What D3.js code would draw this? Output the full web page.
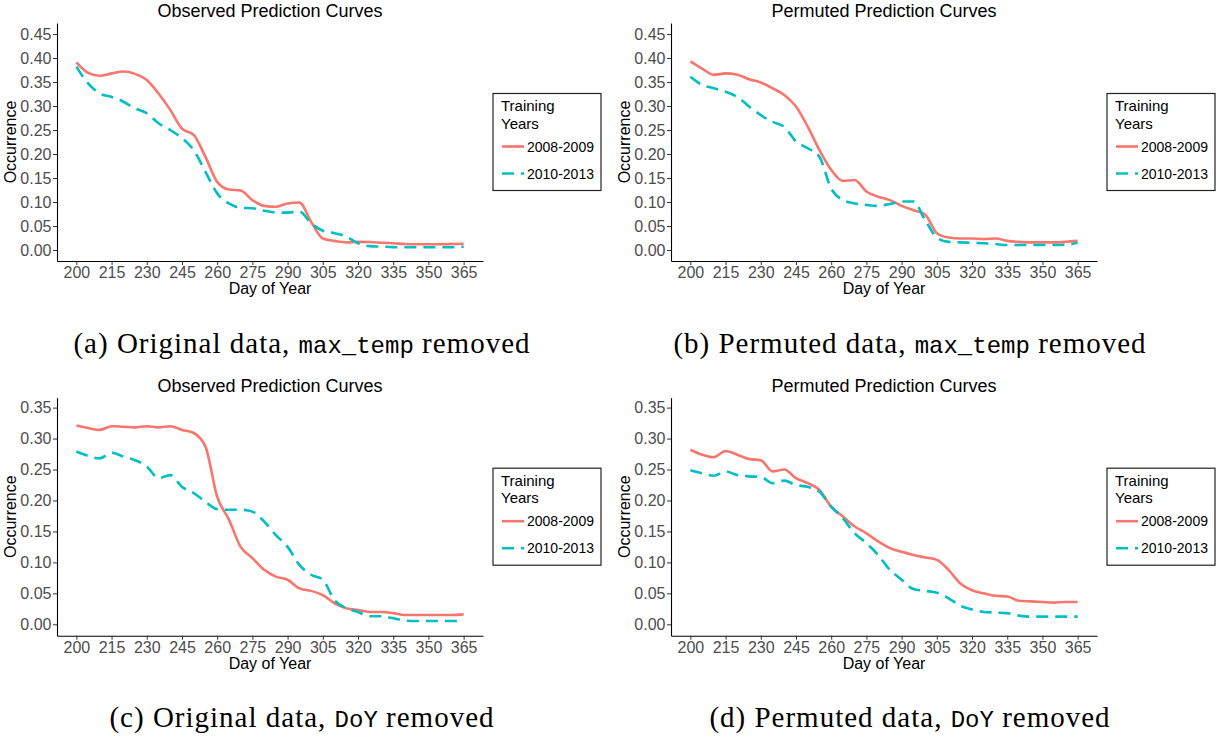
<!DOCTYPE html>
<html>
<head>
<meta charset="utf-8">
<script src="https://cdn.jsdelivr.net/npm/d3@7"></script>
<style>
  body { margin: 0; background: white; }
  svg { display: block; }
</style>
</head>
<body>
<script>
// day of year sampled every 5 days
var days = d3.range(200, 366, 5)
var dayTicks = [200, 215, 230, 245, 260, 275, 290, 305, 320, 335, 350, 365]
var yTicksTop = [0, 0.05, 0.10, 0.15, 0.20, 0.25, 0.30, 0.35, 0.40, 0.45]
var yTicksBottom = [0, 0.05, 0.10, 0.15, 0.20, 0.25, 0.30, 0.35]
var seriesNames = ["2008-2009", "2010-2013"]

// (a) original data, max_temp removed
var obsMax0809 = [0.391, 0.369, 0.363, 0.368, 0.372, 0.367, 0.354, 0.326, 0.292, 0.253, 0.240, 0.194,
  0.142, 0.126, 0.124, 0.104, 0.092, 0.090, 0.097, 0.099, 0.059, 0.024, 0.019, 0.016, 0.017, 0.0167,
  0.015, 0.014, 0.0125, 0.012, 0.012, 0.012, 0.0125, 0.013]
var obsMax1013 = [0.382, 0.347, 0.326, 0.319, 0.309, 0.295, 0.285, 0.264, 0.250, 0.233, 0.208, 0.163,
  0.118, 0.097, 0.088, 0.087, 0.082, 0.078, 0.078, 0.080, 0.056, 0.040, 0.035, 0.028, 0.014, 0.008,
  0.007, 0.006, 0.0056, 0.0056, 0.0056, 0.0056, 0.0056, 0.007]
// (b) permuted data, max_temp removed
var permMax0809 = [0.393, 0.378, 0.365, 0.368, 0.365, 0.356, 0.349, 0.337, 0.323, 0.299, 0.257, 0.208,
  0.167, 0.144, 0.146, 0.122, 0.111, 0.104, 0.092, 0.083, 0.074, 0.035, 0.026, 0.024, 0.024, 0.023,
  0.024, 0.019, 0.017, 0.016, 0.016, 0.016, 0.017, 0.019]
var permMax1013 = [0.361, 0.344, 0.337, 0.330, 0.319, 0.299, 0.281, 0.267, 0.257, 0.226, 0.212, 0.194,
  0.128, 0.104, 0.097, 0.094, 0.092, 0.096, 0.101, 0.101, 0.0625, 0.026, 0.017, 0.016, 0.015, 0.014,
  0.0125, 0.0104, 0.0104, 0.0104, 0.0104, 0.0104, 0.011, 0.015]
// (c) original data, DoY removed
var obsDoy0809 = [0.321, 0.317, 0.314, 0.320, 0.319, 0.318, 0.320, 0.318, 0.320, 0.314, 0.309, 0.287,
  0.206, 0.169, 0.125, 0.107, 0.088, 0.077, 0.072, 0.058, 0.054, 0.047, 0.034, 0.026, 0.023, 0.020,
  0.020, 0.018, 0.015, 0.015, 0.015, 0.015, 0.015, 0.016]
var obsDoy1013 = [0.279, 0.272, 0.268, 0.277, 0.271, 0.265, 0.255, 0.236, 0.241, 0.222, 0.212, 0.198,
  0.186, 0.185, 0.185, 0.182, 0.166, 0.144, 0.125, 0.096, 0.080, 0.072, 0.039, 0.026, 0.020, 0.013,
  0.013, 0.0097, 0.006, 0.0054, 0.0054, 0.0054, 0.0054, 0.0054]
// (d) permuted data, DoY removed
var permDoy0809 = [0.282, 0.274, 0.270, 0.280, 0.274, 0.267, 0.265, 0.247, 0.250, 0.236, 0.228, 0.217,
  0.190, 0.174, 0.158, 0.147, 0.134, 0.123, 0.117, 0.112, 0.108, 0.104, 0.088, 0.066, 0.055, 0.050,
  0.046, 0.045, 0.038, 0.037, 0.036, 0.035, 0.036, 0.036]
var permDoy1013 = [0.249, 0.244, 0.240, 0.247, 0.241, 0.239, 0.238, 0.228, 0.232, 0.225, 0.222, 0.214,
  0.190, 0.171, 0.147, 0.131, 0.112, 0.088, 0.072, 0.057, 0.054, 0.051, 0.042, 0.030, 0.024, 0.020,
  0.019, 0.018, 0.014, 0.0124, 0.0124, 0.0124, 0.0124, 0.0124]

var colors = ["#F8766D", "#00BFC4"]
var sans = "'Liberation Sans', Arial, sans-serif"
var plotW = 426, plotH = 238

var svg = d3.select("body")
  .append("svg")
  .attr("width", 1225)
  .attr("height", 740)

function drawPanel(ox, oy, yDomain, yTicks, title, s1, s2) {
  var g = svg.append("g")
    .attr("transform", "translate(" + ox + "," + oy + ")")

  var x = d3.scaleLinear()
    .domain([191.75, 373.25])
    .range([0, plotW])
  var y = d3.scaleLinear()
    .domain(yDomain)
    .range([plotH, 0])

  var line = d3.line()
    .x((d, i) => x(days[i]))
    .y(d => y(d))
    .curve(d3.curveMonotoneX)

  g.append("path")
    .attr("d", line(s1))
    .attr("fill", "none")
    .attr("stroke", colors[0])
    .attr("stroke-width", 2.6)
  g.append("path")
    .attr("d", line(s2))
    .attr("fill", "none")
    .attr("stroke", colors[1])
    .attr("stroke-width", 2.6)
    .attr("stroke-dasharray", "12,7")

  var xAxis = d3.axisBottom(x)
    .tickValues(dayTicks)
    .tickSize(4)
    .tickSizeOuter(0)
    .tickPadding(2)
  var yAxis = d3.axisLeft(y)
    .tickValues(yTicks)
    .tickFormat(d3.format(".2f"))
    .tickSize(4)
    .tickSizeOuter(0)
    .tickPadding(1.5)

  var gx = g.append("g")
    .attr("transform", "translate(0," + plotH + ")")
    .call(xAxis)
  var gy = g.append("g")
    .call(yAxis)

  ;[gx, gy].forEach(function(a) {
    a.select(".domain").attr("stroke", "black").attr("stroke-width", 1.1)
    a.selectAll(".tick line").attr("stroke", "#333")
    a.selectAll(".tick text")
      .attr("fill", "#4d4d4d")
      .style("font-family", sans)
      .style("font-size", "16px")
  })

  g.append("text")
    .attr("x", plotW / 2)
    .attr("y", -6)
    .attr("text-anchor", "middle")
    .style("font-family", sans)
    .style("font-size", "18px")
    .text(title)

  g.append("text")
    .attr("x", plotW / 2)
    .attr("y", plotH + 33)
    .attr("text-anchor", "middle")
    .style("font-family", sans)
    .style("font-size", "16px")
    .text("Day of Year")

  g.append("text")
    .attr("transform", "translate(-41," + (plotH / 2) + ") rotate(-90)")
    .attr("text-anchor", "middle")
    .style("font-family", sans)
    .style("font-size", "16px")
    .text("Occurrence")

  // legend
  var lg = g.append("g")
    .attr("transform", "translate(" + (plotW + 10) + "," + (plotH / 2 - 48.5) + ")")
  lg.append("rect")
    .attr("width", 108)
    .attr("height", 97)
    .attr("fill", "white")
    .attr("stroke", "#222")
    .attr("stroke-width", 1.2)
  lg.append("text")
    .attr("x", 8).attr("y", 17.5)
    .style("font-family", sans).style("font-size", "15px")
    .text("Training")
  lg.append("text")
    .attr("x", 8).attr("y", 35)
    .style("font-family", sans).style("font-size", "15px")
    .text("Years")
  seriesNames.forEach(function(name, i) {
    var ly = 53 + i * 27
    lg.append("line")
      .attr("x1", 9).attr("x2", 31)
      .attr("y1", ly).attr("y2", ly)
      .attr("stroke", colors[i])
      .attr("stroke-width", 2.6)
      .attr("stroke-dasharray", i == 1 ? "12,7" : null)
    lg.append("text")
      .attr("x", 34).attr("y", ly + 5)
      .style("font-family", sans).style("font-size", "14px")
      .text(name)
  })
}

function caption(cx, cy, pre, code, post) {
  var t = svg.append("text")
    .attr("x", cx)
    .attr("y", cy)
    .attr("text-anchor", "middle")
    .style("font-family", "'Liberation Serif', 'Times New Roman', serif")
    .style("font-size", "29px")
  t.append("tspan").style("letter-spacing", "1px").text(pre)
  t.append("tspan")
    .style("font-family", "'Liberation Mono', 'DejaVu Sans Mono', monospace")
    .style("font-size", "24px")
    .text(code)
  t.append("tspan").style("letter-spacing", "1px").text(post)
}

drawPanel(57, 23, [-0.0229, 0.473], yTicksTop, "Observed Prediction Curves", obsMax0809, obsMax1013)
drawPanel(671, 23, [-0.0229, 0.473], yTicksTop, "Permuted Prediction Curves", permMax0809, permMax1013)
drawPanel(57, 397.7, [-0.0184, 0.366], yTicksBottom, "Observed Prediction Curves", obsDoy0809, obsDoy1013)
drawPanel(671, 397.7, [-0.0184, 0.366], yTicksBottom, "Permuted Prediction Curves", permDoy0809, permDoy1013)

caption(302, 353, "(a) Original data, ", "max_temp", " removed")
caption(910, 353, "(b) Permuted data, ", "max_temp", " removed")
caption(302, 727, "(c) Original data, ", "DoY", " removed")
caption(910, 727, "(d) Permuted data, ", "DoY", " removed")
</script>
</body>
</html>
